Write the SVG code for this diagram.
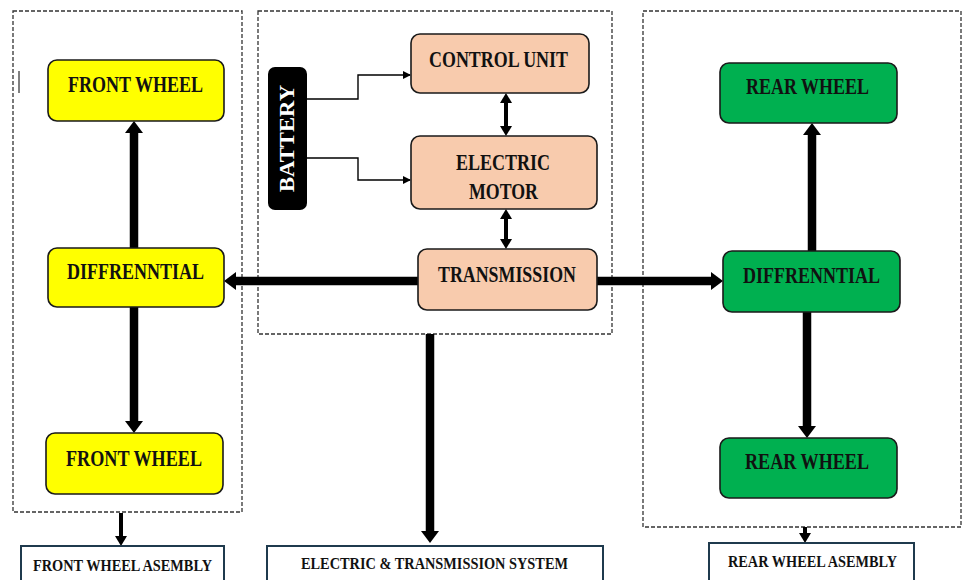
<svg xmlns="http://www.w3.org/2000/svg" width="963" height="580" viewBox="0 0 963 580">
<style>
.dash{fill:none;stroke:#333;stroke-width:1.3;stroke-dasharray:4 2}
.node{stroke:#1a1a1a;stroke-width:1.6}
.yel{fill:#FFFF00}
.grn{fill:#00B050}
.pch{fill:#F8CBAD}
.lbl{font-family:"Liberation Serif","Times New Roman",serif;font-weight:bold;font-size:23.5px;fill:#111;text-anchor:middle}
.sm{font-size:17px}
.out{fill:#fff;stroke:#1f3a4d;stroke-width:2}
.thick{stroke:#000;stroke-width:8.5;fill:none}
.mid{stroke:#000;stroke-width:4;fill:none}
.thin{stroke:#000;stroke-width:1.4;fill:none}
</style>
<defs>
<marker id="big" viewBox="0 0 12 18" refX="2" refY="9" markerWidth="12" markerHeight="18" markerUnits="userSpaceOnUse" orient="auto"><path d="M0,0 L12,9 L0,18 z" fill="#000"/></marker>
<marker id="med" viewBox="0 0 10 12" refX="2" refY="6" markerWidth="10" markerHeight="12" markerUnits="userSpaceOnUse" orient="auto-start-reverse"><path d="M0,0 L10,6 L0,12 z" fill="#000"/></marker>
<marker id="sml" viewBox="0 0 8 8" refX="7" refY="4" markerWidth="8" markerHeight="8" markerUnits="userSpaceOnUse" orient="auto"><path d="M0,0 L8,4 L0,8 z" fill="#000"/></marker>
</defs>
<rect width="963" height="580" fill="#fff"/>
<g id="frames">
<rect class="dash" x="13" y="11" width="229" height="501"/>
<rect class="dash" x="258" y="11" width="354" height="323"/>
<rect class="dash" x="643" y="11" width="318" height="516"/>
<line x1="19" y1="71" x2="19" y2="93" stroke="#000" stroke-width="1"/>
</g>
<g id="connectors">
<line class="thick" x1="134" y1="248" x2="134" y2="131" marker-end="url(#big)"/>
<line class="thick" x1="134" y1="307" x2="134" y2="423" marker-end="url(#big)"/>
<line class="thick" x1="418" y1="281" x2="234" y2="281" marker-end="url(#big)"/>
<line class="thick" x1="597" y1="281" x2="713" y2="281" marker-end="url(#big)"/>
<line class="thick" x1="812" y1="251" x2="812" y2="133" marker-end="url(#big)"/>
<line class="thick" x1="807" y1="312" x2="807" y2="428" marker-end="url(#big)"/>
<line class="thick" x1="430" y1="334" x2="430" y2="533" marker-end="url(#big)"/>
<line class="mid" x1="506" y1="101" x2="506" y2="128" marker-start="url(#med)" marker-end="url(#med)"/>
<line class="mid" x1="506" y1="217" x2="506" y2="241" marker-start="url(#med)" marker-end="url(#med)"/>
<line class="mid" x1="121" y1="513" x2="121" y2="538" stroke-width="5" marker-end="url(#med)"/>
<line class="mid" x1="805" y1="527" x2="805" y2="535" marker-end="url(#med)"/>
<path class="thin" d="M307,99 H358 V75 H410" marker-end="url(#sml)"/>
<path class="thin" d="M307,158 H358 V180 H410" marker-end="url(#sml)"/>
</g>
<g id="front-wheel-top"><rect class="node yel" x="48" y="60" width="176" height="61" rx="9"/><text class="lbl" x="135.5" y="92" textLength="135" lengthAdjust="spacingAndGlyphs">FRONT WHEEL</text></g>
<g id="front-diff"><rect class="node yel" x="48" y="248" width="176" height="59" rx="9"/><text class="lbl" x="135.5" y="279" textLength="137" lengthAdjust="spacingAndGlyphs">DIFFRENNTIAL</text></g>
<g id="front-wheel-bottom"><rect class="node yel" x="46" y="433" width="177" height="61" rx="9"/><text class="lbl" x="134" y="466" textLength="136" lengthAdjust="spacingAndGlyphs">FRONT WHEEL</text></g>
<g id="battery"><rect x="268" y="67" width="39" height="143" rx="7" fill="#000"/><text class="lbl" x="0" y="0" transform="translate(294,138.5) rotate(-90)" style="font-size:20px;fill:#fff" textLength="107" lengthAdjust="spacingAndGlyphs">BATTERY</text></g>
<g id="control-unit"><rect class="node pch" x="411" y="34" width="178" height="59" rx="9"/><text class="lbl" x="498.5" y="67" textLength="139" lengthAdjust="spacingAndGlyphs">CONTROL UNIT</text></g>
<g id="electric-motor"><rect class="node pch" x="411" y="136" width="186" height="73" rx="9"/><text class="lbl" x="503" y="170" textLength="94" lengthAdjust="spacingAndGlyphs">ELECTRIC</text><text class="lbl" x="503.5" y="199" textLength="69" lengthAdjust="spacingAndGlyphs">MOTOR</text></g>
<g id="transmission"><rect class="node pch" x="418" y="249" width="179" height="61" rx="9"/><text class="lbl" x="507" y="282" textLength="138" lengthAdjust="spacingAndGlyphs">TRANSMISSION</text></g>
<g id="rear-wheel-top"><rect class="node grn" x="720" y="63" width="177" height="60" rx="9"/><text class="lbl" x="807.5" y="94" textLength="123" lengthAdjust="spacingAndGlyphs">REAR WHEEL</text></g>
<g id="rear-diff"><rect class="node grn" x="723" y="251" width="177" height="61" rx="9"/><text class="lbl" x="811.5" y="283" textLength="137" lengthAdjust="spacingAndGlyphs">DIFFRENNTIAL</text></g>
<g id="rear-wheel-bottom"><rect class="node grn" x="720" y="438" width="177" height="60" rx="9"/><text class="lbl" x="807" y="469" textLength="124" lengthAdjust="spacingAndGlyphs">REAR WHEEL</text></g>
<g id="front-assembly"><rect class="out" x="21" y="546" width="203" height="44"/><text class="lbl sm" x="122.5" y="571" textLength="179" lengthAdjust="spacingAndGlyphs">FRONT WHEEL ASEMBLY</text></g>
<g id="electric-system"><rect class="out" x="267" y="546" width="336" height="44"/><text class="lbl sm" x="434.5" y="569" style="font-size:16px" textLength="267" lengthAdjust="spacingAndGlyphs">ELECTRIC &amp; TRANSMISSION SYSTEM</text></g>
<g id="rear-assembly"><rect class="out" x="709" y="543" width="205" height="44"/><text class="lbl sm" x="812.5" y="567" textLength="169" lengthAdjust="spacingAndGlyphs">REAR WHEEL ASEMBLY</text></g>
</svg>
